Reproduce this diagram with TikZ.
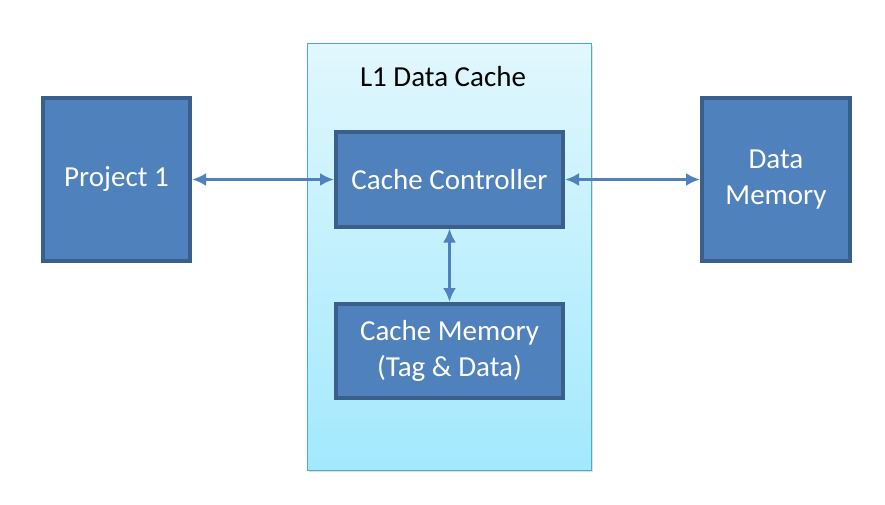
\documentclass[tikz,border=0pt]{standalone}
\usepackage{fontspec}
\setmainfont{Carlito}
\usetikzlibrary{arrows.meta,shadows}
\definecolor{boxblue}{HTML}{4F81BD}
\definecolor{boxedge}{HTML}{3A5F8B}
\definecolor{cacheedge}{HTML}{4BACC6}
\definecolor{cachetop}{HTML}{E1F7FD}
\definecolor{cachebot}{HTML}{A2E9FD}
\begin{document}
\begin{tikzpicture}[x=1pt,y=-1pt,
    block/.style={draw=boxedge, line width=4pt, fill=boxblue, text=white,
        align=center, inner sep=0pt, font=\fontsize{29}{36}\selectfont},
    link/.style={{Latex[length=14pt,width=13pt]}-{Latex[length=14pt,width=13pt]},
        draw=boxblue, line width=3pt}]
        \useasboundingbox (0,0) rectangle (885,505);

        \node[draw=cacheedge, line width=1pt, top color=cachetop, bottom color=cachebot,
            minimum width=284pt, minimum height=426pt,
            drop shadow={shadow xshift=2pt, shadow yshift=-2pt, opacity=0.25, fill=black!50}] (cache) at (449,257) {};
        \node[font=\fontsize{29}{34}\selectfont] (title) at (443,77) {L1 Data Cache};

        \node[block, minimum width=147pt, minimum height=162pt] (proj) at (116.5,179.5) {Project 1};
        \node[block, minimum width=227pt, minimum height=94pt] (ctrl) at (449.5,179.5) {Cache Controller};
        \node[block, minimum width=227pt, minimum height=94pt] (cmem) at (449.5,351) {Cache Memory\\(Tag \& Data)};
        \node[block, minimum width=148pt, minimum height=162pt] (dmem) at (776,179.5) {Data\\Memory};

        \draw[link] (proj.east) -- (ctrl.west);
        \draw[link] (ctrl.east) -- (dmem.west);
        \draw[link] (ctrl.south) -- (cmem.north);

    \end{tikzpicture}
\end{document}
